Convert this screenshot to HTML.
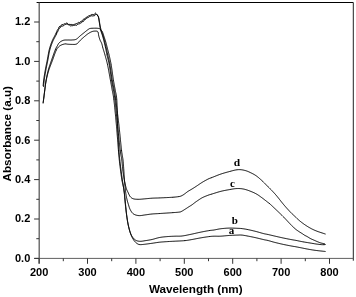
<!DOCTYPE html>
<html><head><meta charset="utf-8"><style>
html,body{margin:0;padding:0;background:#fff;width:356px;height:297px;overflow:hidden}
svg{display:block}
.t{font-family:"Liberation Sans",Arial,sans-serif;font-weight:bold;font-size:11px;fill:#000}
.l{font-family:"Liberation Serif","Times New Roman",serif;font-weight:bold;font-size:11px;fill:#000}
</style></head><body>
<svg width="356" height="297" viewBox="0 0 356 297">
<rect width="356" height="297" fill="#fff"/>
<g fill="none" stroke-width="1">
<path d="M36.6,2.5 H353.3" stroke="#000"/>
<path d="M353.3,2.5 V260.7" stroke="#222"/>
<path d="M39.2,2.5 V263.5" stroke="#5a5a5a" stroke-width="1.3"/>
<path d="M34.3,258.4 H353.3" stroke="#606060"/>
<path d="M34.10,258.40 H39.10 M36.30,238.70 H39.10 M34.10,219.00 H39.10 M36.30,199.30 H39.10 M34.10,179.60 H39.10 M36.30,159.90 H39.10 M34.10,140.20 H39.10 M36.30,120.50 H39.10 M34.10,100.80 H39.10 M36.30,81.10 H39.10 M34.10,61.40 H39.10 M36.30,41.70 H39.10 M34.10,22.00 H39.10 M39.10,258.40 V263.80 M63.30,258.40 V261.20 M87.50,258.40 V263.80 M111.70,258.40 V261.20 M135.90,258.40 V263.80 M160.10,258.40 V261.20 M184.30,258.40 V263.80 M208.50,258.40 V261.20 M232.70,258.40 V263.80 M256.90,258.40 V261.20 M281.10,258.40 V263.80 M305.30,258.40 V261.20 M329.50,258.40 V263.80" stroke="#333"/>
</g>
<g fill="none" stroke="#000" stroke-width="1" stroke-linejoin="round">
<path d="M43.10,86.10 L43.14,85.66 L43.19,85.11 L43.25,84.46 L43.32,83.73 L43.39,82.93 L43.48,82.08 L43.57,81.20 L43.67,80.30 L43.78,79.40 L43.90,78.50 L43.99,77.85 L44.10,77.17 L44.20,76.47 L44.32,75.75 L44.44,75.01 L44.57,74.26 L44.69,73.50 L44.82,72.74 L44.96,71.98 L45.09,71.23 L45.22,70.50 L45.35,69.78 L45.48,69.08 L45.60,68.40 L45.74,67.65 L45.88,66.93 L46.02,66.23 L46.16,65.55 L46.29,64.89 L46.43,64.23 L46.57,63.56 L46.71,62.89 L46.85,62.21 L47.00,61.50 L47.15,60.77 L47.30,60.00 L47.42,59.36 L47.55,58.69 L47.67,58.00 L47.79,57.30 L47.91,56.58 L48.04,55.85 L48.17,55.12 L48.30,54.38 L48.43,53.65 L48.56,52.92 L48.70,52.20 L48.84,51.50 L48.99,50.81 L49.14,50.14 L49.30,49.50 L49.50,48.72 L49.72,47.95 L49.94,47.20 L50.17,46.46 L50.40,45.73 L50.64,45.02 L50.88,44.32 L51.12,43.64 L51.37,42.98 L51.61,42.34 L51.86,41.71 L52.10,41.10 L52.42,40.33 L52.75,39.62 L53.07,38.95 L53.40,38.31 L53.74,37.68 L54.07,37.06 L54.41,36.43 L54.75,35.78 L55.10,35.10 L55.42,34.44 L55.75,33.74 L56.09,32.65 L56.43,32.63 L56.77,31.81 L57.12,30.59 L57.45,30.14 L57.78,29.45 L58.10,29.07 L58.40,28.69 L58.97,27.16 L59.50,26.46 L60.01,26.77 L60.50,25.94 L61.00,25.86 L61.83,24.51 L62.63,24.51 L63.40,24.42 L64.13,23.61 L64.82,24.08 L65.50,23.90 L66.51,23.09 L67.50,23.33 L68.13,24.06 L68.76,24.71 L69.50,24.38 L70.18,24.36 L70.94,24.71 L71.73,24.41 L72.50,24.62 L73.23,24.76 L73.96,24.68 L74.70,24.20 L75.50,23.93 L76.21,23.64 L76.97,23.55 L77.75,23.02 L78.51,22.38 L79.20,22.84 L79.96,22.15 L80.64,21.85 L81.31,20.97 L82.00,21.29 L82.58,20.69 L83.16,19.43 L83.75,19.09 L84.36,18.93 L85.00,18.41 L85.68,18.16 L86.40,17.17 L87.13,17.13 L87.84,16.55 L88.50,15.80 L89.27,15.64 L89.99,15.53 L90.67,15.16 L91.30,14.61 L92.06,14.73 L92.73,14.40 L93.40,14.64 L94.07,14.72 L94.74,13.66 L95.40,13.07 L96.11,13.72 L96.81,14.47 L97.40,15.07 L97.93,15.53 L98.30,16.70 L98.45,17.31 L98.59,18.02 L98.72,18.80 L98.86,19.64 L99.00,20.50 L99.11,21.14 L99.22,21.83 L99.34,22.54 L99.45,23.26 L99.57,23.99 L99.68,24.71 L99.80,25.40 L99.93,26.19 L100.04,26.96 L100.16,27.72 L100.28,28.49 L100.43,29.24 L100.60,30.00 L100.81,30.76 L101.06,31.53 L101.33,32.29 L101.60,33.04 L101.86,33.78 L102.10,34.50 L102.36,35.32 L102.60,36.09 L102.83,36.86 L103.06,37.65 L103.30,38.50 L103.47,39.16 L103.65,39.84 L103.82,40.55 L103.99,41.27 L104.16,42.00 L104.33,42.71 L104.50,43.40 L104.69,44.16 L104.86,44.87 L105.04,45.57 L105.21,46.30 L105.40,47.10 L105.60,48.00 L105.72,48.59 L105.85,49.20 L105.97,49.83 L106.10,50.48 L106.22,51.16 L106.36,51.87 L106.50,52.60 L106.66,53.37 L106.82,54.17 L107.00,55.00 L107.14,55.61 L107.28,56.23 L107.44,56.85 L107.59,57.49 L107.76,58.15 L107.93,58.81 L108.10,59.50 L108.27,60.21 L108.45,60.94 L108.62,61.69 L108.80,62.47 L108.97,63.28 L109.14,64.12 L109.30,65.00 L109.41,65.61 L109.51,66.25 L109.62,66.92 L109.73,67.62 L109.84,68.33 L109.94,69.07 L110.05,69.81 L110.16,70.57 L110.27,71.34 L110.37,72.11 L110.48,72.89 L110.58,73.66 L110.69,74.43 L110.79,75.19 L110.90,75.93 L111.00,76.67 L111.10,77.38 L111.20,78.08 L111.30,78.75 L111.40,79.39 L111.50,80.00 L111.65,80.87 L111.79,81.69 L111.93,82.47 L112.07,83.22 L112.21,83.94 L112.35,84.64 L112.49,85.31 L112.62,85.98 L112.76,86.63 L112.89,87.29 L113.02,87.95 L113.15,88.62 L113.27,89.30 L113.40,90.00 L113.52,90.68 L113.64,91.30 L113.75,91.87 L113.85,92.42 L113.96,92.96 L114.06,93.50 L114.16,94.06 L114.27,94.66 L114.37,95.32 L114.49,96.05 L114.60,96.86 L114.73,97.78 L114.86,98.82 L115.00,100.00 L115.06,100.51 L115.12,101.05 L115.18,101.61 L115.24,102.18 L115.31,102.78 L115.37,103.40 L115.44,104.04 L115.51,104.69 L115.57,105.36 L115.64,106.05 L115.71,106.75 L115.78,107.46 L115.85,108.19 L115.93,108.92 L116.00,109.66 L116.07,110.42 L116.14,111.18 L116.22,111.95 L116.29,112.72 L116.37,113.50 L116.44,114.28 L116.52,115.06 L116.59,115.85 L116.67,116.63 L116.74,117.42 L116.82,118.20 L116.90,118.98 L116.97,119.76 L117.05,120.53 L117.12,121.30 L117.20,122.06 L117.28,122.81 L117.35,123.55 L117.43,124.28 L117.50,125.00 L117.57,125.72 L117.65,126.45 L117.73,127.19 L117.81,127.94 L117.88,128.70 L117.96,129.47 L118.04,130.24 L118.13,131.02 L118.21,131.80 L118.29,132.58 L118.37,133.37 L118.45,134.15 L118.54,134.94 L118.62,135.72 L118.70,136.50 L118.78,137.28 L118.87,138.05 L118.95,138.82 L119.03,139.58 L119.11,140.34 L119.19,141.08 L119.27,141.81 L119.35,142.54 L119.43,143.25 L119.50,143.95 L119.58,144.64 L119.65,145.31 L119.73,145.96 L119.80,146.60 L119.87,147.22 L119.94,147.82 L120.01,148.39 L120.07,148.95 L120.14,149.49 L120.20,150.00 L120.35,151.18 L120.49,152.22 L120.63,153.14 L120.75,153.95 L120.88,154.68 L120.99,155.34 L121.11,155.94 L121.21,156.50 L121.32,157.04 L121.42,157.58 L121.52,158.13 L121.61,158.70 L121.71,159.32 L121.80,160.00 L121.89,160.72 L121.97,161.45 L122.05,162.18 L122.12,162.92 L122.19,163.65 L122.26,164.39 L122.32,165.12 L122.39,165.85 L122.45,166.58 L122.52,167.29 L122.58,167.99 L122.65,168.68 L122.72,169.35 L122.80,170.00 L122.90,170.81 L123.01,171.61 L123.12,172.39 L123.23,173.16 L123.34,173.91 L123.45,174.65 L123.56,175.36 L123.67,176.05 L123.79,176.72 L123.89,177.37 L124.00,178.00 L124.14,178.81 L124.28,179.56 L124.42,180.27 L124.55,180.94 L124.68,181.58 L124.82,182.22 L124.96,182.85 L125.10,183.50 L125.26,184.25 L125.42,185.00 L125.58,185.74 L125.75,186.47 L125.92,187.17 L126.10,187.85 L126.30,188.50 L126.60,189.33 L126.92,190.08 L127.26,190.80 L127.62,191.53 L128.00,192.30 L128.33,193.01 L128.66,193.77 L129.01,194.55 L129.37,195.30 L129.77,196.00 L130.20,196.60 L130.74,197.20 L131.30,197.71 L131.91,198.14 L132.60,198.50 L133.40,198.80 L134.05,198.97 L134.75,199.10 L135.51,199.19 L136.30,199.24 L137.12,199.28 L137.96,199.30 L138.80,199.30 L139.47,199.29 L140.15,199.26 L140.84,199.21 L141.55,199.15 L142.27,199.08 L143.00,199.01 L143.73,198.94 L144.47,198.87 L145.20,198.80 L145.93,198.74 L146.66,198.67 L147.39,198.60 L148.13,198.52 L148.87,198.45 L149.63,198.38 L150.40,198.32 L151.19,198.25 L152.00,198.20 L152.67,198.16 L153.33,198.13 L153.99,198.10 L154.65,198.08 L155.33,198.06 L156.03,198.04 L156.75,198.02 L157.50,198.00 L158.29,197.97 L159.12,197.94 L160.00,197.90 L160.61,197.87 L161.26,197.84 L161.95,197.81 L162.67,197.78 L163.42,197.75 L164.18,197.71 L164.95,197.67 L165.73,197.64 L166.51,197.60 L167.28,197.56 L168.04,197.52 L168.78,197.49 L169.50,197.45 L170.18,197.41 L170.83,197.37 L171.44,197.34 L172.00,197.30 L173.07,197.23 L174.01,197.15 L174.86,197.08 L175.61,197.01 L176.30,196.93 L176.93,196.86 L177.53,196.78 L178.10,196.70 L179.07,196.56 L179.79,196.42 L180.42,196.25 L181.10,196.00 L181.83,195.67 L182.56,195.28 L183.30,194.83 L184.10,194.30 L184.67,193.89 L185.26,193.44 L185.88,192.95 L186.50,192.45 L187.15,191.96 L187.80,191.50 L188.47,191.07 L189.17,190.65 L189.88,190.24 L190.59,189.83 L191.30,189.42 L192.00,189.00 L192.67,188.59 L193.30,188.19 L193.94,187.79 L194.60,187.37 L195.31,186.92 L196.10,186.40 L196.62,186.05 L197.18,185.68 L197.76,185.28 L198.36,184.87 L198.97,184.45 L199.60,184.02 L200.23,183.60 L200.86,183.18 L201.49,182.78 L202.10,182.40 L202.79,181.99 L203.49,181.57 L204.21,181.15 L204.93,180.74 L205.64,180.35 L206.33,179.97 L207.00,179.62 L207.62,179.29 L208.20,179.00 L209.02,178.61 L209.64,178.36 L210.22,178.15 L210.94,177.90 L212.00,177.50 L212.52,177.29 L213.10,177.06 L213.72,176.81 L214.39,176.54 L215.08,176.26 L215.81,175.97 L216.55,175.67 L217.30,175.37 L218.06,175.08 L218.82,174.79 L219.56,174.51 L220.29,174.25 L221.00,174.00 L221.70,173.77 L222.41,173.54 L223.14,173.32 L223.86,173.10 L224.59,172.88 L225.32,172.68 L226.04,172.47 L226.75,172.28 L227.44,172.09 L228.12,171.91 L228.78,171.73 L229.40,171.56 L230.00,171.40 L230.91,171.15 L231.76,170.92 L232.56,170.70 L233.31,170.50 L234.04,170.32 L234.73,170.16 L235.42,170.02 L236.10,169.90 L236.97,169.78 L237.79,169.69 L238.57,169.64 L239.34,169.63 L240.11,169.65 L240.90,169.70 L241.60,169.77 L242.31,169.88 L243.03,170.01 L243.74,170.16 L244.45,170.33 L245.14,170.51 L245.80,170.70 L246.52,170.93 L247.19,171.16 L247.84,171.41 L248.50,171.70 L249.21,172.02 L250.00,172.40 L250.58,172.68 L251.19,172.98 L251.84,173.29 L252.50,173.62 L253.18,173.97 L253.86,174.34 L254.55,174.74 L255.23,175.16 L255.90,175.60 L256.44,175.98 L256.99,176.39 L257.53,176.81 L258.08,177.25 L258.63,177.70 L259.17,178.16 L259.72,178.64 L260.27,179.12 L260.81,179.61 L261.36,180.10 L261.90,180.60 L262.45,181.11 L263.00,181.64 L263.56,182.19 L264.13,182.75 L264.69,183.32 L265.25,183.89 L265.79,184.45 L266.32,185.00 L266.84,185.52 L267.33,186.03 L267.80,186.50 L268.39,187.09 L268.94,187.62 L269.44,188.12 L269.92,188.59 L270.39,189.05 L270.87,189.53 L271.37,190.04 L271.90,190.60 L272.34,191.07 L272.78,191.53 L273.23,192.00 L273.67,192.48 L274.13,192.97 L274.60,193.49 L275.09,194.04 L275.60,194.62 L276.14,195.23 L276.70,195.90 L277.10,196.38 L277.51,196.88 L277.93,197.41 L278.37,197.96 L278.82,198.53 L279.28,199.12 L279.75,199.71 L280.22,200.31 L280.69,200.92 L281.17,201.52 L281.64,202.12 L282.11,202.71 L282.58,203.29 L283.05,203.86 L283.50,204.40 L283.99,204.97 L284.48,205.55 L284.98,206.13 L285.48,206.70 L285.98,207.28 L286.48,207.84 L286.98,208.40 L287.47,208.95 L287.96,209.48 L288.43,210.00 L288.90,210.51 L289.35,210.99 L289.78,211.46 L290.20,211.90 L290.80,212.53 L291.36,213.09 L291.88,213.60 L292.37,214.07 L292.85,214.52 L293.33,214.96 L293.83,215.41 L294.34,215.89 L294.90,216.40 L295.37,216.85 L295.85,217.30 L296.33,217.76 L296.82,218.24 L297.32,218.71 L297.82,219.19 L298.35,219.67 L298.88,220.16 L299.43,220.64 L300.01,221.12 L300.60,221.60 L301.12,222.01 L301.67,222.42 L302.23,222.85 L302.80,223.27 L303.39,223.70 L303.99,224.13 L304.59,224.55 L305.20,224.97 L305.81,225.38 L306.41,225.78 L307.02,226.17 L307.61,226.54 L308.20,226.90 L308.82,227.27 L309.43,227.62 L310.03,227.96 L310.62,228.29 L311.21,228.61 L311.81,228.92 L312.41,229.22 L313.03,229.52 L313.66,229.81 L314.31,230.11 L314.99,230.40 L315.70,230.70 L316.36,230.96 L317.07,231.24 L317.84,231.52 L318.64,231.80 L319.46,232.08 L320.29,232.36 L321.12,232.64 L321.92,232.90 L322.70,233.15 L323.42,233.39 L324.09,233.60 L324.68,233.80 L325.19,233.96 L325.60,234.10"/>
<path d="M43.50,87.00 L43.54,86.56 L43.59,86.01 L43.65,85.36 L43.72,84.63 L43.79,83.83 L43.88,82.98 L43.97,82.10 L44.07,81.20 L44.18,80.30 L44.30,79.40 L44.39,78.75 L44.50,78.07 L44.60,77.37 L44.72,76.65 L44.84,75.91 L44.97,75.16 L45.09,74.40 L45.22,73.64 L45.36,72.88 L45.49,72.13 L45.62,71.40 L45.75,70.68 L45.88,69.98 L46.00,69.30 L46.14,68.55 L46.28,67.83 L46.42,67.13 L46.56,66.45 L46.69,65.79 L46.83,65.13 L46.97,64.46 L47.11,63.79 L47.25,63.11 L47.40,62.40 L47.55,61.67 L47.70,60.90 L47.82,60.26 L47.95,59.59 L48.07,58.90 L48.19,58.20 L48.31,57.48 L48.44,56.75 L48.57,56.02 L48.70,55.28 L48.83,54.55 L48.96,53.82 L49.10,53.10 L49.24,52.40 L49.39,51.71 L49.54,51.04 L49.70,50.40 L49.90,49.62 L50.12,48.85 L50.34,48.10 L50.57,47.36 L50.80,46.63 L51.04,45.92 L51.28,45.22 L51.52,44.54 L51.77,43.88 L52.01,43.24 L52.26,42.61 L52.50,42.00 L52.82,41.23 L53.15,40.52 L53.47,39.85 L53.80,39.21 L54.14,38.58 L54.47,37.96 L54.81,37.33 L55.15,36.68 L55.50,36.00 L55.82,35.34 L56.15,35.10 L56.49,34.37 L56.83,32.74 L57.18,32.03 L57.52,32.07 L57.85,31.28 L58.18,30.57 L58.50,29.62 L58.80,29.41 L59.37,28.57 L59.90,27.91 L60.41,26.99 L60.90,26.84 L61.40,26.39 L62.23,26.13 L63.03,25.96 L63.80,25.55 L64.53,24.82 L65.22,24.48 L65.90,24.17 L66.91,24.00 L67.90,24.23 L68.53,24.88 L69.16,24.99 L69.90,25.28 L70.58,25.94 L71.34,25.71 L72.13,25.84 L72.90,25.54 L73.63,25.25 L74.36,25.41 L75.10,25.01 L75.90,25.11 L76.61,25.32 L77.37,24.67 L78.15,23.81 L78.91,24.15 L79.60,23.70 L80.36,23.23 L81.04,23.01 L81.71,22.45 L82.40,21.99 L82.98,21.08 L83.56,21.19 L84.15,20.62 L84.76,19.27 L85.40,19.35 L86.08,18.84 L86.80,18.11 L87.53,17.73 L88.24,17.27 L88.90,17.32 L89.67,16.45 L90.39,16.38 L91.07,15.57 L91.70,15.88 L92.46,15.94 L93.13,15.73 L93.80,15.87 L94.47,15.74 L95.14,14.87 L95.80,14.29 L96.51,14.29 L97.21,14.99 L97.80,16.00 L98.33,16.56 L98.70,17.60 L98.85,18.21 L98.99,18.92 L99.12,19.70 L99.26,20.54 L99.40,21.40 L99.51,22.05 L99.61,22.74 L99.72,23.45 L99.83,24.18 L99.95,24.91 L100.07,25.62 L100.20,26.30 L100.36,27.05 L100.53,27.77 L100.71,28.48 L100.89,29.18 L101.09,29.88 L101.30,30.60 L101.53,31.33 L101.78,32.07 L102.04,32.82 L102.31,33.56 L102.56,34.29 L102.80,35.00 L103.06,35.81 L103.30,36.59 L103.53,37.36 L103.76,38.16 L104.00,39.00 L104.17,39.65 L104.35,40.32 L104.52,41.02 L104.69,41.72 L104.86,42.43 L105.03,43.12 L105.20,43.80 L105.38,44.54 L105.56,45.24 L105.73,45.93 L105.91,46.65 L106.09,47.43 L106.30,48.30 L106.45,48.93 L106.59,49.58 L106.74,50.25 L106.90,50.95 L107.06,51.68 L107.23,52.44 L107.41,53.25 L107.60,54.10 L107.80,55.00 L107.94,55.60 L108.08,56.21 L108.23,56.83 L108.38,57.47 L108.53,58.12 L108.69,58.79 L108.86,59.48 L109.02,60.19 L109.19,60.92 L109.35,61.68 L109.52,62.47 L109.68,63.28 L109.84,64.12 L110.00,65.00 L110.10,65.61 L110.21,66.25 L110.32,66.92 L110.42,67.62 L110.53,68.33 L110.63,69.07 L110.74,69.81 L110.85,70.57 L110.95,71.34 L111.06,72.11 L111.17,72.89 L111.27,73.66 L111.38,74.43 L111.48,75.19 L111.59,75.93 L111.69,76.67 L111.79,77.38 L111.90,78.08 L112.00,78.75 L112.10,79.39 L112.20,80.00 L112.35,80.87 L112.50,81.69 L112.65,82.47 L112.80,83.22 L112.95,83.94 L113.09,84.64 L113.24,85.31 L113.38,85.98 L113.52,86.63 L113.66,87.29 L113.80,87.95 L113.94,88.62 L114.07,89.30 L114.20,90.00 L114.32,90.68 L114.44,91.30 L114.54,91.87 L114.64,92.42 L114.74,92.96 L114.83,93.50 L114.93,94.06 L115.03,94.66 L115.13,95.32 L115.25,96.05 L115.37,96.86 L115.50,97.78 L115.64,98.82 L115.80,100.00 L115.87,100.51 L115.94,101.05 L116.01,101.61 L116.09,102.18 L116.17,102.78 L116.25,103.40 L116.33,104.04 L116.42,104.69 L116.50,105.36 L116.59,106.05 L116.68,106.75 L116.77,107.46 L116.86,108.19 L116.96,108.92 L117.05,109.66 L117.14,110.42 L117.24,111.18 L117.34,111.95 L117.43,112.72 L117.53,113.50 L117.62,114.28 L117.72,115.06 L117.82,115.85 L117.91,116.63 L118.01,117.42 L118.10,118.20 L118.20,118.98 L118.29,119.76 L118.38,120.53 L118.47,121.30 L118.56,122.06 L118.65,122.81 L118.73,123.55 L118.82,124.28 L118.90,125.00 L118.98,125.72 L119.06,126.45 L119.14,127.19 L119.23,127.94 L119.31,128.70 L119.39,129.47 L119.47,130.24 L119.55,131.02 L119.63,131.80 L119.71,132.58 L119.79,133.37 L119.87,134.15 L119.95,134.94 L120.03,135.72 L120.11,136.50 L120.18,137.28 L120.26,138.05 L120.34,138.82 L120.41,139.58 L120.49,140.34 L120.56,141.08 L120.64,141.81 L120.71,142.54 L120.78,143.25 L120.85,143.95 L120.92,144.64 L120.99,145.31 L121.06,145.96 L121.13,146.60 L121.19,147.22 L121.26,147.82 L121.32,148.39 L121.38,148.95 L121.44,149.49 L121.50,150.00 L121.64,151.18 L121.78,152.22 L121.91,153.14 L122.03,153.95 L122.15,154.68 L122.26,155.34 L122.36,155.94 L122.46,156.50 L122.56,157.04 L122.65,157.58 L122.74,158.13 L122.83,158.70 L122.92,159.32 L123.00,160.00 L123.08,160.71 L123.15,161.43 L123.22,162.14 L123.29,162.86 L123.35,163.57 L123.40,164.29 L123.46,165.00 L123.51,165.71 L123.56,166.43 L123.61,167.14 L123.65,167.86 L123.70,168.57 L123.75,169.29 L123.80,170.00 L123.85,170.72 L123.90,171.45 L123.94,172.20 L123.98,172.94 L124.02,173.69 L124.07,174.44 L124.11,175.19 L124.15,175.92 L124.19,176.65 L124.23,177.36 L124.27,178.06 L124.31,178.73 L124.35,179.38 L124.40,180.00 L124.47,180.82 L124.53,181.59 L124.60,182.32 L124.67,183.02 L124.74,183.69 L124.81,184.34 L124.88,184.99 L124.95,185.65 L125.03,186.31 L125.10,187.00 L125.17,187.71 L125.25,188.42 L125.32,189.15 L125.40,189.87 L125.47,190.59 L125.55,191.31 L125.63,192.01 L125.72,192.70 L125.81,193.36 L125.90,194.00 L126.02,194.76 L126.15,195.49 L126.28,196.19 L126.41,196.88 L126.55,197.54 L126.70,198.20 L126.85,198.85 L127.00,199.50 L127.18,200.24 L127.37,200.96 L127.56,201.67 L127.76,202.38 L127.96,203.08 L128.18,203.78 L128.40,204.50 L128.62,205.23 L128.84,205.97 L129.07,206.72 L129.31,207.47 L129.57,208.20 L129.87,208.91 L130.20,209.60 L130.56,210.28 L130.95,210.96 L131.36,211.64 L131.80,212.28 L132.28,212.88 L132.82,213.43 L133.40,213.90 L133.96,214.25 L134.57,214.56 L135.22,214.83 L135.90,215.06 L136.61,215.25 L137.33,215.40 L138.06,215.52 L138.80,215.60 L139.47,215.63 L140.15,215.61 L140.84,215.55 L141.55,215.46 L142.27,215.36 L143.00,215.24 L143.73,215.12 L144.47,215.00 L145.20,214.90 L145.93,214.81 L146.66,214.71 L147.39,214.60 L148.13,214.49 L148.87,214.38 L149.63,214.28 L150.40,214.18 L151.19,214.08 L152.00,214.00 L152.67,213.94 L153.33,213.89 L153.99,213.84 L154.65,213.80 L155.33,213.76 L156.03,213.73 L156.75,213.69 L157.50,213.65 L158.29,213.60 L159.12,213.56 L160.00,213.50 L160.61,213.46 L161.26,213.42 L161.94,213.37 L162.65,213.33 L163.38,213.28 L164.13,213.23 L164.89,213.18 L165.66,213.13 L166.43,213.08 L167.19,213.03 L167.95,212.98 L168.69,212.93 L169.42,212.88 L170.11,212.83 L170.78,212.79 L171.41,212.74 L172.00,212.70 L172.94,212.63 L173.84,212.57 L174.69,212.51 L175.49,212.46 L176.25,212.40 L176.96,212.34 L177.62,212.29 L178.23,212.23 L178.79,212.17 L179.30,212.10 L180.42,211.90 L180.99,211.68 L181.70,211.30 L182.23,211.02 L182.81,210.68 L183.42,210.30 L184.05,209.90 L184.68,209.49 L185.30,209.10 L185.92,208.71 L186.55,208.30 L187.19,207.88 L187.81,207.47 L188.42,207.07 L189.00,206.70 L189.63,206.31 L190.20,205.96 L190.75,205.62 L191.34,205.25 L192.00,204.80 L192.51,204.43 L193.04,204.03 L193.58,203.60 L194.15,203.15 L194.76,202.68 L195.40,202.20 L196.10,201.70 L196.62,201.34 L197.18,200.95 L197.76,200.55 L198.36,200.14 L198.97,199.72 L199.60,199.30 L200.23,198.90 L200.86,198.51 L201.49,198.14 L202.10,197.80 L202.79,197.45 L203.49,197.11 L204.21,196.79 L204.93,196.48 L205.64,196.19 L206.33,195.91 L207.00,195.66 L207.62,195.42 L208.20,195.20 L209.02,194.89 L209.64,194.69 L210.22,194.52 L210.94,194.31 L212.00,194.00 L212.52,193.84 L213.10,193.66 L213.72,193.46 L214.39,193.25 L215.08,193.03 L215.81,192.80 L216.55,192.57 L217.30,192.34 L218.06,192.11 L218.82,191.89 L219.56,191.68 L220.29,191.48 L221.00,191.30 L221.70,191.13 L222.41,190.96 L223.14,190.80 L223.86,190.65 L224.59,190.50 L225.32,190.36 L226.04,190.22 L226.75,190.09 L227.44,189.96 L228.12,189.84 L228.78,189.72 L229.40,189.61 L230.00,189.50 L230.90,189.34 L231.73,189.19 L232.50,189.05 L233.24,188.93 L233.95,188.82 L234.65,188.73 L235.36,188.65 L236.10,188.60 L236.85,188.56 L237.60,188.54 L238.35,188.53 L239.10,188.54 L239.85,188.57 L240.60,188.63 L241.35,188.70 L242.10,188.80 L242.76,188.91 L243.42,189.03 L244.07,189.17 L244.72,189.32 L245.37,189.50 L246.04,189.69 L246.73,189.90 L247.45,190.14 L248.20,190.40 L248.85,190.63 L249.52,190.89 L250.23,191.16 L250.95,191.44 L251.68,191.74 L252.42,192.05 L253.15,192.37 L253.87,192.70 L254.58,193.03 L255.25,193.36 L255.90,193.70 L256.58,194.08 L257.23,194.46 L257.86,194.86 L258.47,195.26 L259.07,195.67 L259.66,196.09 L260.24,196.52 L260.82,196.94 L261.41,197.37 L262.00,197.80 L262.61,198.25 L263.24,198.72 L263.88,199.21 L264.51,199.71 L265.14,200.20 L265.75,200.68 L266.33,201.14 L266.88,201.57 L267.37,201.96 L267.80,202.30 L268.63,202.90 L269.07,203.20 L270.00,204.00 L270.37,204.33 L270.78,204.71 L271.24,205.13 L271.73,205.59 L272.24,206.07 L272.79,206.58 L273.34,207.11 L273.91,207.65 L274.48,208.19 L275.05,208.73 L275.62,209.27 L276.17,209.79 L276.70,210.30 L277.22,210.80 L277.74,211.29 L278.26,211.79 L278.79,212.29 L279.31,212.79 L279.84,213.30 L280.36,213.80 L280.89,214.31 L281.41,214.82 L281.94,215.34 L282.46,215.85 L282.98,216.38 L283.50,216.90 L284.02,217.44 L284.56,217.99 L285.09,218.56 L285.63,219.13 L286.18,219.71 L286.71,220.29 L287.25,220.86 L287.77,221.43 L288.29,221.98 L288.79,222.52 L289.28,223.04 L289.75,223.53 L290.20,224.00 L290.81,224.63 L291.40,225.22 L291.95,225.79 L292.48,226.31 L292.98,226.82 L293.47,227.29 L293.95,227.75 L294.43,228.18 L294.90,228.60 L295.58,229.17 L296.22,229.67 L296.84,230.12 L297.44,230.55 L298.06,230.97 L298.70,231.40 L299.39,231.86 L300.13,232.33 L300.88,232.80 L301.60,233.24 L302.25,233.65 L302.80,234.00 L303.73,234.67 L304.50,235.20 L305.13,235.54 L305.85,235.90 L306.62,236.28 L307.40,236.70 L308.03,237.08 L308.69,237.49 L309.35,237.91 L310.03,238.32 L310.70,238.70 L311.37,239.03 L312.05,239.34 L312.74,239.62 L313.42,239.91 L314.10,240.20 L314.78,240.50 L315.46,240.81 L316.14,241.11 L316.82,241.41 L317.50,241.70 L318.17,241.98 L318.83,242.26 L319.50,242.53 L320.18,242.78 L320.90,243.00 L321.73,243.20 L322.65,243.39 L323.56,243.56 L324.35,243.70 L324.90,243.80"/>
<path d="M43.10,102.90 L43.16,102.45 L43.24,101.86 L43.34,101.15 L43.45,100.37 L43.56,99.53 L43.68,98.67 L43.79,97.82 L43.90,97.00 L43.99,96.31 L44.07,95.63 L44.14,94.95 L44.22,94.26 L44.30,93.55 L44.39,92.81 L44.48,92.03 L44.58,91.20 L44.70,90.30 L44.78,89.68 L44.86,89.04 L44.95,88.36 L45.03,87.67 L45.12,86.95 L45.22,86.21 L45.31,85.47 L45.41,84.71 L45.52,83.95 L45.62,83.19 L45.74,82.43 L45.85,81.68 L45.97,80.93 L46.10,80.20 L46.23,79.47 L46.36,78.75 L46.50,78.02 L46.64,77.29 L46.78,76.56 L46.93,75.83 L47.08,75.09 L47.24,74.36 L47.40,73.63 L47.57,72.90 L47.74,72.17 L47.92,71.45 L48.11,70.72 L48.30,70.00 L48.49,69.33 L48.68,68.66 L48.88,67.99 L49.09,67.32 L49.31,66.65 L49.53,65.99 L49.75,65.32 L49.98,64.66 L50.21,63.99 L50.44,63.33 L50.67,62.66 L50.90,62.00 L51.14,61.33 L51.37,60.67 L51.60,60.00 L51.83,59.32 L52.07,58.62 L52.32,57.91 L52.57,57.19 L52.83,56.46 L53.08,55.74 L53.34,55.01 L53.59,54.30 L53.84,53.60 L54.09,52.93 L54.33,52.27 L54.56,51.65 L54.78,51.06 L55.00,50.51 L55.20,50.00 L55.60,49.06 L55.96,48.27 L56.29,47.61 L56.60,47.03 L56.90,46.52 L57.20,46.02 L57.50,45.50 L57.89,44.79 L58.23,44.15 L58.58,43.57 L58.98,43.02 L59.50,42.50 L60.04,42.07 L60.65,41.64 L61.31,41.23 L62.01,40.86 L62.71,40.55 L63.40,40.30 L64.08,40.14 L64.78,40.05 L65.48,40.01 L66.19,40.01 L66.90,40.01 L67.60,40.00 L68.30,39.99 L69.00,40.00 L69.69,40.02 L70.39,40.04 L71.09,40.04 L71.80,40.00 L72.52,39.95 L73.24,39.91 L73.97,39.86 L74.69,39.75 L75.41,39.58 L76.10,39.30 L76.68,38.97 L77.23,38.55 L77.78,38.07 L78.33,37.56 L78.88,37.03 L79.43,36.50 L80.00,36.00 L80.58,35.52 L81.18,35.03 L81.78,34.54 L82.38,34.06 L82.99,33.57 L83.60,33.08 L84.20,32.60 L84.82,32.10 L85.46,31.58 L86.11,31.05 L86.75,30.54 L87.35,30.07 L87.91,29.64 L88.40,29.30 L89.16,28.80 L89.69,28.56 L90.50,28.40 L91.16,28.32 L91.96,28.27 L92.83,28.24 L93.70,28.22 L94.51,28.21 L95.20,28.20 L96.23,28.20 L97.02,28.24 L97.70,28.30 L98.53,28.41 L99.20,28.60 L99.83,28.89 L100.40,29.30 L100.91,29.90 L101.40,30.60 L101.91,31.13 L102.50,32.10 L102.70,32.61 L102.92,33.23 L103.15,33.92 L103.39,34.66 L103.63,35.43 L103.87,36.18 L104.10,36.90 L104.33,37.58 L104.56,38.25 L104.79,38.92 L105.01,39.60 L105.24,40.30 L105.47,41.03 L105.70,41.80 L105.88,42.43 L106.05,43.08 L106.23,43.74 L106.40,44.42 L106.58,45.12 L106.75,45.83 L106.93,46.54 L107.11,47.27 L107.30,48.00 L107.47,48.65 L107.64,49.30 L107.82,49.95 L107.99,50.60 L108.17,51.26 L108.35,51.95 L108.53,52.65 L108.72,53.40 L108.91,54.17 L109.10,55.00 L109.24,55.61 L109.38,56.23 L109.53,56.85 L109.68,57.49 L109.82,58.15 L109.97,58.81 L110.12,59.50 L110.28,60.21 L110.43,60.94 L110.58,61.69 L110.74,62.47 L110.89,63.28 L111.05,64.12 L111.20,65.00 L111.30,65.61 L111.41,66.25 L111.51,66.92 L111.62,67.62 L111.73,68.33 L111.83,69.07 L111.94,69.81 L112.05,70.57 L112.16,71.34 L112.26,72.11 L112.37,72.89 L112.48,73.66 L112.59,74.43 L112.69,75.19 L112.80,75.93 L112.90,76.67 L113.00,77.38 L113.11,78.08 L113.21,78.75 L113.30,79.39 L113.40,80.00 L113.54,80.87 L113.68,81.69 L113.82,82.47 L113.95,83.22 L114.08,83.94 L114.21,84.64 L114.34,85.31 L114.46,85.98 L114.59,86.63 L114.71,87.29 L114.83,87.95 L114.96,88.62 L115.08,89.30 L115.20,90.00 L115.32,90.68 L115.45,91.30 L115.57,91.87 L115.70,92.42 L115.82,92.96 L115.94,93.50 L116.06,94.06 L116.18,94.66 L116.30,95.32 L116.41,96.05 L116.51,96.86 L116.62,97.78 L116.71,98.82 L116.80,100.00 L116.83,100.51 L116.87,101.05 L116.90,101.61 L116.92,102.18 L116.95,102.78 L116.98,103.40 L117.00,104.04 L117.03,104.69 L117.05,105.36 L117.07,106.05 L117.09,106.75 L117.11,107.46 L117.13,108.19 L117.15,108.92 L117.17,109.66 L117.19,110.42 L117.21,111.18 L117.23,111.95 L117.25,112.72 L117.26,113.50 L117.28,114.28 L117.30,115.06 L117.32,115.85 L117.34,116.63 L117.36,117.42 L117.38,118.20 L117.40,118.98 L117.42,119.76 L117.44,120.53 L117.47,121.30 L117.49,122.06 L117.52,122.81 L117.54,123.55 L117.57,124.28 L117.60,125.00 L117.63,125.72 L117.66,126.45 L117.69,127.19 L117.73,127.94 L117.76,128.70 L117.80,129.47 L117.83,130.24 L117.87,131.02 L117.91,131.80 L117.95,132.58 L117.99,133.37 L118.02,134.15 L118.06,134.94 L118.10,135.72 L118.14,136.50 L118.18,137.28 L118.22,138.05 L118.26,138.82 L118.30,139.58 L118.34,140.34 L118.38,141.08 L118.42,141.81 L118.46,142.54 L118.50,143.25 L118.54,143.95 L118.58,144.64 L118.62,145.31 L118.66,145.96 L118.69,146.60 L118.73,147.22 L118.77,147.82 L118.80,148.39 L118.84,148.95 L118.87,149.49 L118.90,150.00 L118.98,151.18 L119.05,152.22 L119.11,153.14 L119.18,153.95 L119.24,154.68 L119.30,155.34 L119.36,155.94 L119.41,156.50 L119.47,157.04 L119.53,157.58 L119.59,158.13 L119.66,158.70 L119.73,159.32 L119.80,160.00 L119.88,160.71 L119.95,161.43 L120.03,162.14 L120.12,162.86 L120.20,163.57 L120.28,164.29 L120.37,165.00 L120.46,165.71 L120.54,166.43 L120.63,167.14 L120.72,167.86 L120.82,168.57 L120.91,169.29 L121.00,170.00 L121.09,170.72 L121.19,171.45 L121.29,172.20 L121.39,172.94 L121.50,173.69 L121.60,174.44 L121.71,175.19 L121.81,175.92 L121.91,176.65 L122.02,177.36 L122.12,178.06 L122.21,178.73 L122.31,179.38 L122.40,180.00 L122.52,180.83 L122.64,181.62 L122.76,182.37 L122.88,183.09 L122.99,183.78 L123.10,184.45 L123.20,185.10 L123.30,185.74 L123.40,186.37 L123.50,187.00 L123.63,187.80 L123.74,188.48 L123.84,189.09 L123.94,189.73 L124.04,190.46 L124.16,191.36 L124.30,192.50 L124.36,193.06 L124.43,193.66 L124.50,194.31 L124.57,194.99 L124.65,195.71 L124.73,196.46 L124.80,197.22 L124.88,198.01 L124.97,198.81 L125.05,199.61 L125.13,200.42 L125.21,201.22 L125.29,202.01 L125.37,202.79 L125.45,203.56 L125.53,204.29 L125.60,205.00 L125.68,205.78 L125.76,206.56 L125.84,207.33 L125.92,208.09 L126.00,208.85 L126.07,209.60 L126.15,210.35 L126.23,211.09 L126.30,211.82 L126.38,212.54 L126.46,213.25 L126.54,213.95 L126.63,214.65 L126.71,215.33 L126.80,216.00 L126.90,216.76 L127.01,217.51 L127.12,218.24 L127.22,218.97 L127.33,219.68 L127.44,220.37 L127.56,221.06 L127.67,221.74 L127.79,222.41 L127.91,223.07 L128.04,223.72 L128.17,224.36 L128.30,225.00 L128.46,225.75 L128.63,226.49 L128.80,227.23 L128.98,227.96 L129.16,228.67 L129.34,229.36 L129.53,230.04 L129.72,230.70 L129.91,231.33 L130.11,231.93 L130.30,232.50 L130.60,233.33 L130.90,234.09 L131.21,234.79 L131.52,235.44 L131.85,236.05 L132.21,236.63 L132.60,237.20 L133.09,237.85 L133.62,238.46 L134.17,239.04 L134.76,239.56 L135.37,240.02 L136.00,240.40 L136.65,240.70 L137.33,240.93 L138.03,241.09 L138.75,241.20 L139.51,241.27 L140.30,241.30 L141.01,241.29 L141.74,241.23 L142.49,241.13 L143.27,241.01 L144.06,240.88 L144.87,240.73 L145.70,240.60 L146.35,240.50 L147.01,240.40 L147.69,240.30 L148.37,240.19 L149.06,240.07 L149.77,239.95 L150.50,239.81 L151.24,239.66 L152.00,239.50 L152.64,239.35 L153.30,239.18 L153.98,238.99 L154.67,238.79 L155.37,238.59 L156.07,238.39 L156.78,238.18 L157.49,237.99 L158.20,237.81 L158.90,237.64 L159.60,237.50 L160.36,237.36 L161.12,237.24 L161.87,237.13 L162.63,237.04 L163.39,236.95 L164.15,236.87 L164.91,236.80 L165.67,236.73 L166.43,236.66 L167.20,236.60 L167.90,236.54 L168.62,236.49 L169.33,236.45 L170.06,236.41 L170.78,236.37 L171.50,236.34 L172.21,236.31 L172.93,236.28 L173.63,236.25 L174.32,236.23 L175.00,236.20 L175.72,236.18 L176.42,236.17 L177.10,236.17 L177.76,236.18 L178.43,236.18 L179.09,236.18 L179.78,236.16 L180.48,236.13 L181.22,236.08 L182.00,236.00 L182.63,235.92 L183.27,235.82 L183.94,235.72 L184.62,235.60 L185.32,235.47 L186.02,235.33 L186.73,235.19 L187.45,235.04 L188.17,234.89 L188.88,234.74 L189.60,234.59 L190.30,234.44 L191.00,234.30 L191.69,234.16 L192.38,234.01 L193.08,233.85 L193.77,233.70 L194.46,233.54 L195.15,233.38 L195.85,233.22 L196.54,233.06 L197.23,232.90 L197.92,232.75 L198.62,232.59 L199.31,232.44 L200.00,232.30 L200.70,232.16 L201.42,232.01 L202.16,231.86 L202.90,231.72 L203.64,231.57 L204.38,231.43 L205.11,231.29 L205.83,231.16 L206.53,231.03 L207.20,230.91 L207.84,230.80 L208.44,230.69 L209.00,230.60 L209.91,230.46 L210.68,230.37 L211.35,230.30 L211.97,230.24 L212.59,230.18 L213.25,230.11 L214.00,230.00 L214.64,229.89 L215.29,229.76 L215.96,229.63 L216.64,229.48 L217.34,229.33 L218.07,229.19 L218.82,229.04 L219.59,228.91 L220.40,228.80 L221.03,228.72 L221.68,228.64 L222.36,228.57 L223.05,228.50 L223.75,228.43 L224.47,228.36 L225.19,228.30 L225.92,228.25 L226.65,228.20 L227.37,228.16 L228.09,228.13 L228.80,228.10 L229.52,228.08 L230.25,228.08 L231.01,228.08 L231.77,228.10 L232.53,228.11 L233.28,228.14 L234.02,228.16 L234.74,228.19 L235.44,228.22 L236.10,228.25 L236.72,228.28 L237.30,228.30 L238.29,228.34 L239.10,228.37 L239.81,228.40 L240.49,228.44 L241.19,228.51 L242.00,228.60 L242.67,228.69 L243.35,228.78 L244.04,228.89 L244.76,229.01 L245.50,229.14 L246.26,229.28 L247.06,229.43 L247.90,229.60 L248.54,229.73 L249.20,229.87 L249.89,230.02 L250.59,230.18 L251.31,230.34 L252.04,230.51 L252.78,230.68 L253.51,230.86 L254.25,231.04 L254.98,231.22 L255.70,231.40 L256.43,231.59 L257.18,231.79 L257.94,232.01 L258.71,232.23 L259.48,232.45 L260.24,232.67 L260.98,232.88 L261.70,233.08 L262.38,233.27 L263.01,233.45 L263.60,233.60 L264.51,233.82 L265.25,233.97 L265.89,234.09 L266.51,234.20 L267.19,234.33 L268.00,234.50 L268.61,234.64 L269.25,234.79 L269.91,234.94 L270.60,235.10 L271.31,235.27 L272.04,235.45 L272.80,235.63 L273.59,235.81 L274.40,236.00 L275.03,236.14 L275.68,236.30 L276.36,236.45 L277.05,236.61 L277.75,236.77 L278.47,236.94 L279.19,237.10 L279.92,237.27 L280.65,237.43 L281.37,237.59 L282.09,237.75 L282.80,237.90 L283.52,238.05 L284.25,238.21 L285.01,238.36 L285.77,238.51 L286.53,238.67 L287.28,238.82 L288.02,238.97 L288.74,239.11 L289.44,239.24 L290.10,239.37 L290.72,239.49 L291.30,239.60 L292.31,239.78 L293.16,239.93 L293.91,240.05 L294.60,240.16 L295.28,240.27 L296.00,240.40 L296.75,240.55 L297.49,240.70 L298.21,240.86 L298.93,241.01 L299.62,241.16 L300.30,241.30 L301.03,241.45 L301.68,241.58 L302.33,241.70 L303.08,241.84 L304.00,242.00 L304.61,242.10 L305.29,242.22 L306.01,242.34 L306.77,242.46 L307.55,242.59 L308.35,242.72 L309.15,242.85 L309.93,242.98 L310.70,243.10 L311.46,243.23 L312.23,243.36 L313.01,243.49 L313.79,243.62 L314.57,243.75 L315.33,243.88 L316.08,244.00 L316.81,244.10 L317.50,244.20 L318.37,244.31 L319.22,244.41 L320.05,244.49 L320.85,244.57 L321.59,244.63 L322.28,244.67 L322.90,244.70 L324.10,244.68 L325.00,244.58 L325.60,244.50"/>
<path d="M43.10,103.50 L43.15,103.11 L43.21,102.65 L43.28,102.11 L43.35,101.51 L43.43,100.86 L43.52,100.17 L43.62,99.43 L43.71,98.66 L43.81,97.88 L43.91,97.07 L44.02,96.26 L44.12,95.44 L44.23,94.64 L44.33,93.85 L44.43,93.08 L44.52,92.35 L44.61,91.65 L44.70,91.00 L44.80,90.21 L44.90,89.44 L44.99,88.70 L45.08,87.98 L45.17,87.26 L45.25,86.57 L45.34,85.88 L45.43,85.19 L45.52,84.51 L45.62,83.82 L45.72,83.13 L45.84,82.43 L45.96,81.72 L46.10,81.00 L46.24,80.31 L46.38,79.62 L46.53,78.92 L46.68,78.22 L46.84,77.52 L47.00,76.81 L47.17,76.10 L47.34,75.40 L47.52,74.69 L47.71,73.98 L47.90,73.28 L48.09,72.58 L48.29,71.88 L48.49,71.19 L48.70,70.50 L48.92,69.82 L49.14,69.14 L49.37,68.46 L49.61,67.78 L49.86,67.11 L50.11,66.44 L50.37,65.77 L50.62,65.10 L50.88,64.44 L51.14,63.78 L51.40,63.12 L51.66,62.46 L51.91,61.80 L52.16,61.15 L52.40,60.50 L52.66,59.79 L52.92,59.06 L53.19,58.32 L53.46,57.57 L53.72,56.82 L53.99,56.08 L54.25,55.34 L54.51,54.63 L54.76,53.93 L55.01,53.26 L55.25,52.63 L55.48,52.04 L55.69,51.49 L55.90,51.00 L56.40,49.90 L56.80,49.11 L57.17,48.53 L57.55,48.03 L58.00,47.50 L58.51,46.95 L59.04,46.45 L59.61,45.99 L60.22,45.58 L60.90,45.20 L61.54,44.91 L62.27,44.63 L63.02,44.39 L63.78,44.18 L64.48,44.01 L65.10,43.90 L66.00,43.89 L66.70,44.05 L67.60,44.20 L68.20,44.24 L68.87,44.29 L69.59,44.33 L70.33,44.37 L71.07,44.39 L71.80,44.40 L72.53,44.41 L73.29,44.43 L74.06,44.43 L74.80,44.41 L75.49,44.34 L76.10,44.20 L76.88,43.84 L77.53,43.34 L78.09,42.80 L78.60,42.30 L79.04,41.80 L79.37,41.31 L80.00,40.60 L80.39,40.22 L80.85,39.79 L81.37,39.31 L81.93,38.80 L82.50,38.28 L83.08,37.76 L83.66,37.27 L84.20,36.80 L84.80,36.29 L85.40,35.79 L86.00,35.29 L86.60,34.80 L87.20,34.34 L87.80,33.90 L88.40,33.50 L89.10,33.06 L89.81,32.64 L90.52,32.26 L91.22,31.92 L91.92,31.63 L92.60,31.40 L93.44,31.21 L94.32,31.12 L95.16,31.08 L95.90,31.09 L96.50,31.10 L97.25,31.19 L97.60,31.50 L97.99,32.08 L98.30,33.00 L98.42,33.64 L98.51,34.39 L98.62,35.22 L98.80,36.10 L98.97,36.74 L99.16,37.43 L99.38,38.14 L99.61,38.86 L99.86,39.56 L100.10,40.20 L100.41,40.88 L100.74,41.48 L101.07,42.06 L101.40,42.68 L101.70,43.40 L101.91,44.06 L102.10,44.74 L102.27,45.46 L102.45,46.24 L102.65,47.08 L102.90,48.00 L103.07,48.59 L103.25,49.20 L103.45,49.83 L103.65,50.48 L103.86,51.16 L104.08,51.87 L104.30,52.60 L104.53,53.37 L104.77,54.17 L105.00,55.00 L105.17,55.61 L105.34,56.23 L105.52,56.85 L105.70,57.49 L105.88,58.15 L106.07,58.81 L106.26,59.50 L106.45,60.21 L106.64,60.94 L106.83,61.69 L107.02,62.47 L107.21,63.28 L107.41,64.12 L107.60,65.00 L107.73,65.61 L107.86,66.25 L108.00,66.92 L108.14,67.62 L108.27,68.33 L108.41,69.07 L108.56,69.81 L108.70,70.57 L108.84,71.34 L108.98,72.11 L109.12,72.89 L109.26,73.66 L109.40,74.43 L109.53,75.19 L109.67,75.93 L109.80,76.67 L109.93,77.38 L110.05,78.08 L110.17,78.75 L110.29,79.39 L110.40,80.00 L110.56,80.87 L110.71,81.69 L110.85,82.47 L110.99,83.22 L111.12,83.94 L111.25,84.64 L111.37,85.31 L111.49,85.98 L111.61,86.63 L111.72,87.29 L111.84,87.95 L111.96,88.62 L112.08,89.30 L112.20,90.00 L112.32,90.68 L112.44,91.30 L112.56,91.87 L112.67,92.42 L112.78,92.96 L112.89,93.50 L113.01,94.06 L113.12,94.66 L113.24,95.32 L113.36,96.05 L113.48,96.86 L113.62,97.78 L113.75,98.82 L113.90,100.00 L113.96,100.51 L114.02,101.05 L114.09,101.61 L114.15,102.18 L114.22,102.78 L114.29,103.40 L114.36,104.04 L114.43,104.69 L114.50,105.36 L114.57,106.05 L114.64,106.75 L114.72,107.46 L114.79,108.19 L114.87,108.92 L114.94,109.66 L115.02,110.42 L115.09,111.18 L115.17,111.95 L115.25,112.72 L115.32,113.50 L115.40,114.28 L115.47,115.06 L115.55,115.85 L115.62,116.63 L115.70,117.42 L115.77,118.20 L115.85,118.98 L115.92,119.76 L115.99,120.53 L116.06,121.30 L116.13,122.06 L116.20,122.81 L116.27,123.55 L116.33,124.28 L116.40,125.00 L116.46,125.72 L116.53,126.45 L116.59,127.19 L116.66,127.94 L116.72,128.70 L116.79,129.47 L116.85,130.24 L116.91,131.02 L116.98,131.80 L117.04,132.58 L117.10,133.37 L117.17,134.15 L117.23,134.94 L117.29,135.72 L117.35,136.50 L117.41,137.28 L117.47,138.05 L117.53,138.82 L117.59,139.58 L117.65,140.34 L117.70,141.08 L117.76,141.81 L117.82,142.54 L117.87,143.25 L117.92,143.95 L117.98,144.64 L118.03,145.31 L118.08,145.96 L118.13,146.60 L118.18,147.22 L118.22,147.82 L118.27,148.39 L118.31,148.95 L118.36,149.49 L118.40,150.00 L118.50,151.18 L118.58,152.22 L118.66,153.14 L118.73,153.95 L118.79,154.68 L118.85,155.34 L118.90,155.94 L118.95,156.50 L119.00,157.04 L119.05,157.58 L119.11,158.13 L119.17,158.70 L119.23,159.32 L119.30,160.00 L119.38,160.71 L119.45,161.43 L119.53,162.14 L119.62,162.86 L119.70,163.57 L119.78,164.29 L119.87,165.00 L119.96,165.71 L120.04,166.43 L120.13,167.14 L120.22,167.86 L120.32,168.57 L120.41,169.29 L120.50,170.00 L120.59,170.72 L120.69,171.46 L120.79,172.22 L120.89,172.97 L120.99,173.74 L121.09,174.50 L121.19,175.25 L121.30,175.99 L121.40,176.72 L121.50,177.43 L121.60,178.12 L121.70,178.78 L121.80,179.41 L121.90,180.00 L122.07,180.94 L122.24,181.78 L122.41,182.54 L122.58,183.25 L122.74,183.93 L122.90,184.59 L123.05,185.28 L123.20,186.00 L123.34,186.70 L123.47,187.34 L123.59,187.94 L123.71,188.56 L123.82,189.24 L123.94,190.01 L124.07,190.92 L124.20,192.00 L124.26,192.55 L124.32,193.15 L124.39,193.78 L124.45,194.46 L124.52,195.16 L124.58,195.89 L124.65,196.64 L124.71,197.41 L124.78,198.19 L124.85,198.98 L124.92,199.77 L124.99,200.56 L125.05,201.34 L125.12,202.11 L125.19,202.87 L125.26,203.60 L125.33,204.32 L125.40,205.00 L125.48,205.80 L125.57,206.58 L125.65,207.36 L125.73,208.13 L125.82,208.89 L125.90,209.64 L125.99,210.38 L126.07,211.12 L126.16,211.84 L126.25,212.56 L126.34,213.26 L126.43,213.96 L126.52,214.65 L126.61,215.33 L126.70,216.00 L126.81,216.76 L126.91,217.50 L127.02,218.23 L127.13,218.95 L127.24,219.65 L127.34,220.35 L127.46,221.03 L127.57,221.70 L127.69,222.37 L127.81,223.03 L127.93,223.69 L128.06,224.35 L128.20,225.00 L128.37,225.78 L128.54,226.55 L128.72,227.33 L128.91,228.10 L129.10,228.86 L129.30,229.61 L129.50,230.34 L129.70,231.05 L129.90,231.73 L130.10,232.38 L130.30,233.00 L130.58,233.80 L130.86,234.54 L131.15,235.23 L131.44,235.89 L131.73,236.50 L132.02,237.09 L132.31,237.66 L132.60,238.20 L133.06,239.01 L133.51,239.75 L133.96,240.41 L134.42,241.03 L134.90,241.60 L135.54,242.27 L136.20,242.86 L136.86,243.38 L137.50,243.80 L138.23,244.21 L138.93,244.46 L139.80,244.60 L140.39,244.64 L140.99,244.64 L141.68,244.59 L142.52,244.51 L143.60,244.40 L144.14,244.34 L144.74,244.27 L145.40,244.19 L146.09,244.10 L146.81,244.01 L147.56,243.91 L148.32,243.80 L149.09,243.70 L149.85,243.60 L150.59,243.49 L151.31,243.39 L152.00,243.30 L152.78,243.19 L153.54,243.07 L154.28,242.96 L155.01,242.84 L155.73,242.72 L156.46,242.61 L157.21,242.50 L157.97,242.39 L158.77,242.29 L159.60,242.20 L160.25,242.13 L160.90,242.07 L161.55,242.01 L162.21,241.96 L162.87,241.91 L163.55,241.86 L164.25,241.81 L164.97,241.76 L165.72,241.71 L166.50,241.66 L167.32,241.61 L168.19,241.56 L169.10,241.50 L169.70,241.46 L170.34,241.43 L171.01,241.39 L171.72,241.36 L172.45,241.32 L173.19,241.28 L173.96,241.25 L174.74,241.21 L175.52,241.17 L176.31,241.14 L177.10,241.10 L177.88,241.06 L178.66,241.02 L179.42,240.99 L180.16,240.95 L180.88,240.91 L181.58,240.87 L182.24,240.83 L182.87,240.78 L183.46,240.74 L184.00,240.70 L185.01,240.61 L185.87,240.52 L186.62,240.44 L187.27,240.35 L187.87,240.26 L188.44,240.16 L189.00,240.06 L189.60,239.95 L190.25,239.83 L191.00,239.70 L191.63,239.59 L192.27,239.47 L192.94,239.35 L193.62,239.22 L194.32,239.08 L195.02,238.95 L195.73,238.80 L196.45,238.66 L197.17,238.52 L197.88,238.39 L198.60,238.25 L199.30,238.12 L200.00,238.00 L200.70,237.88 L201.42,237.76 L202.16,237.64 L202.90,237.51 L203.64,237.39 L204.38,237.28 L205.11,237.16 L205.83,237.05 L206.53,236.95 L207.20,236.85 L207.84,236.76 L208.44,236.67 L209.00,236.60 L209.91,236.49 L210.68,236.40 L211.35,236.34 L211.97,236.29 L212.59,236.26 L213.25,236.23 L214.00,236.20 L214.64,236.19 L215.29,236.19 L215.96,236.20 L216.64,236.21 L217.34,236.23 L218.07,236.24 L218.82,236.24 L219.59,236.23 L220.40,236.20 L221.03,236.17 L221.68,236.12 L222.36,236.07 L223.05,236.01 L223.75,235.94 L224.47,235.87 L225.19,235.81 L225.92,235.74 L226.65,235.67 L227.37,235.61 L228.09,235.55 L228.80,235.50 L229.52,235.45 L230.25,235.41 L231.01,235.37 L231.77,235.33 L232.53,235.29 L233.28,235.26 L234.02,235.22 L234.74,235.19 L235.44,235.16 L236.10,235.14 L236.72,235.12 L237.30,235.10 L238.29,235.07 L239.10,235.03 L239.81,235.01 L240.49,235.01 L241.19,235.04 L242.00,235.10 L242.67,235.17 L243.35,235.27 L244.04,235.38 L244.76,235.50 L245.50,235.64 L246.26,235.78 L247.06,235.94 L247.90,236.10 L248.54,236.22 L249.20,236.35 L249.89,236.48 L250.59,236.63 L251.31,236.77 L252.04,236.92 L252.78,237.07 L253.51,237.23 L254.25,237.38 L254.98,237.54 L255.70,237.70 L256.43,237.87 L257.18,238.04 L257.94,238.22 L258.71,238.41 L259.48,238.60 L260.24,238.79 L260.98,238.97 L261.70,239.15 L262.38,239.31 L263.01,239.46 L263.60,239.60 L264.51,239.80 L265.25,239.94 L265.89,240.06 L266.51,240.17 L267.19,240.31 L268.00,240.50 L268.61,240.66 L269.25,240.84 L269.91,241.03 L270.60,241.23 L271.31,241.44 L272.04,241.65 L272.80,241.87 L273.59,242.09 L274.40,242.30 L275.03,242.46 L275.68,242.63 L276.36,242.79 L277.05,242.96 L277.75,243.13 L278.47,243.31 L279.19,243.48 L279.92,243.65 L280.65,243.82 L281.37,243.98 L282.09,244.14 L282.80,244.30 L283.52,244.46 L284.25,244.61 L285.01,244.77 L285.77,244.92 L286.53,245.08 L287.28,245.23 L288.02,245.37 L288.74,245.51 L289.44,245.65 L290.10,245.77 L290.72,245.89 L291.30,246.00 L292.30,246.18 L293.15,246.33 L293.89,246.45 L294.58,246.56 L295.27,246.67 L296.00,246.80 L296.74,246.94 L297.43,247.07 L298.12,247.21 L298.85,247.35 L299.66,247.51 L300.60,247.70 L301.18,247.81 L301.80,247.94 L302.46,248.07 L303.15,248.21 L303.86,248.36 L304.58,248.50 L305.32,248.65 L306.05,248.80 L306.78,248.94 L307.50,249.07 L308.20,249.20 L308.94,249.33 L309.67,249.46 L310.38,249.59 L311.09,249.71 L311.81,249.82 L312.53,249.94 L313.28,250.06 L314.05,250.17 L314.85,250.29 L315.70,250.40 L316.36,250.48 L317.07,250.57 L317.84,250.66 L318.64,250.75 L319.46,250.85 L320.29,250.94 L321.12,251.03 L321.92,251.11 L322.70,251.19 L323.42,251.27 L324.09,251.34 L324.68,251.40 L325.19,251.46 L325.60,251.50"/>
</g>
<g class="t" text-anchor="end">
<text x="30.3" y="261.70">0.0</text><text x="30.3" y="222.30">0.2</text><text x="30.3" y="182.90">0.4</text><text x="30.3" y="143.50">0.6</text><text x="30.3" y="104.10">0.8</text><text x="30.3" y="64.70">1.0</text><text x="30.3" y="25.30">1.2</text>
</g>
<g class="t" text-anchor="middle">
<text x="39.10" y="275.8">200</text><text x="87.50" y="275.8">300</text><text x="135.90" y="275.8">400</text><text x="184.30" y="275.8">500</text><text x="232.70" y="275.8">600</text><text x="281.10" y="275.8">700</text><text x="329.50" y="275.8">800</text>
<text x="195.8" y="292.8" style="font-size:11.7px">Wavelength (nm)</text>
<text transform="translate(11.1,133.8) rotate(-90)" style="font-size:11.7px">Absorbance (a.u)</text>
</g>
<g class="l" text-anchor="middle">
<text x="236.9" y="165.5" style="font-size:11.4px">d</text>
<text x="232.5" y="186.5">c</text>
<text x="234.8" y="223.7">b</text>
<text x="231.4" y="233.8">a</text>
</g>
</svg>
</body></html>
